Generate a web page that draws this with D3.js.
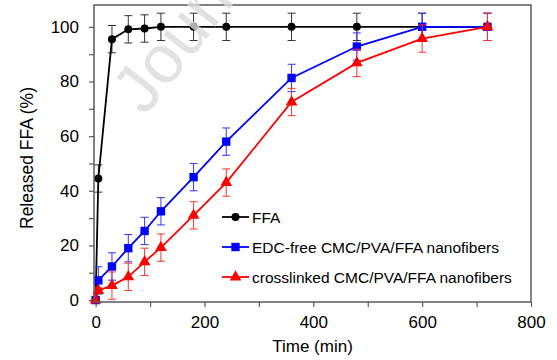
<!DOCTYPE html>
<html><head><meta charset="utf-8">
<script src="https://cdn.jsdelivr.net/npm/d3@7"></script>
<style>body{margin:0;background:#fff;}svg{display:block;font-family:"Liberation Sans",Arial,sans-serif;}</style>
</head><body><svg id="c" width="557" height="360"></svg>
<script>
const times = [0, 5, 30, 60, 90, 120, 180, 240, 360, 480, 600, 720];
const ffa = [0, 44.5, 95.5, 99.1, 99.4, 100, 100, 100, 100, 100, 100, 100];
const ffaErr = [0, 5, 5, 5, 5, 5, 5, 5, 5, 5, 5, 5];
const edcFree = [0, 7.2, 12.3, 19, 25.3, 32.5, 45, 58, 81.3, 92.8, 100, 100];
const edcErr = [0, 5, 5, 5, 5, 5, 5, 5, 5, 5, 5, 5];
const crosslinked = [0, 3.5, 5.3, 8.5, 14, 19.2, 31, 43, 72.5, 86.8, 95.7, 100];
const crossErr = [0, 1, 5, 5, 5, 5, 5, 5, 5, 5, 5, 5];
const seriesNames = ["FFA", "EDC-free CMC/PVA/FFA nanofibers", "crosslinked CMC/PVA/FFA nanofibers"];
const xTicks = [0, 200, 400, 600, 800];
const yTicks = [0, 20, 40, 60, 80, 100];

const svg = d3.select("#c");
const L = 94, R = 531, T = 5, B = 302;
const x = d3.scaleLinear().domain([-3, 800]).range([L, R]);
const y = d3.scaleLinear().domain([-0.7, 108]).range([B, T]);
const frameColor = "#5a5a5a";

// axes
const xAxis = d3.axisBottom(x).tickValues(d3.range(0, 801, 100)).tickSize(5).tickPadding(9)
  .tickFormat(d => xTicks.includes(d) ? d : "");
const gx = svg.append("g").attr("transform", `translate(0,${B})`).call(xAxis);
const yAxis = d3.axisLeft(y).tickValues(d3.range(0, 101, 10)).tickSize(5).tickPadding(10)
  .tickFormat(d => yTicks.includes(d) ? d : "");
const gy = svg.append("g").attr("transform", `translate(${L},0)`).call(yAxis);
[gx, gy].forEach(g => {
  g.select(".domain").remove();
  g.selectAll(".tick line").attr("stroke", frameColor).attr("stroke-width", 1.2);
  g.selectAll(".tick text").attr("fill", "#000").style("font-size", "17px");
});

const series = [
  {vals: ffa, err: ffaErr, color: "#000", ecolor: "#333", shape: "circle"},
  {vals: edcFree, err: edcErr, color: "#0000ff", ecolor: "#3333ff", shape: "square"},
  {vals: crosslinked, err: crossErr, color: "#ff0000", ecolor: "#ff3333", shape: "triangle"}
];
const sym = {circle: d3.symbolCircle, square: d3.symbolSquare, triangle: d3.symbolTriangle};
const size = {circle: 50, square: 70, triangle: 60};

series.forEach(s => {
  const pts = times.map((t, i) => ({t, v: s.vals[i], e: s.err[i]}));
  const g = svg.append("g");
  // error bars
  pts.filter(p => p.e > 0).forEach(p => {
    g.append("line").attr("x1", x(p.t)).attr("x2", x(p.t)).attr("y1", y(p.v - p.e)).attr("y2", y(p.v + p.e))
      .attr("stroke", s.ecolor).attr("stroke-width", 1);
    [p.v - p.e, p.v + p.e].forEach(v => {
      g.append("line").attr("x1", x(p.t) - 4).attr("x2", x(p.t) + 4).attr("y1", y(v)).attr("y2", y(v))
        .attr("stroke", s.ecolor).attr("stroke-width", 1);
    });
  });
  g.append("path").datum(pts)
    .attr("d", d3.line().x(p => x(p.t)).y(p => y(p.v)))
    .attr("fill", "none").attr("stroke", s.color).attr("stroke-width", 1.8);
  g.selectAll("path.m").data(pts).join("path").attr("class", "m")
    .attr("transform", p => `translate(${x(p.t)},${y(p.v)})`)
    .attr("d", d3.symbol().type(sym[s.shape]).size(size[s.shape]))
    .attr("fill", s.color);
});

// frame
svg.append("rect").attr("x", L).attr("y", T).attr("width", R - L).attr("height", B - T)
  .attr("fill", "none").attr("stroke", frameColor).attr("stroke-width", 1.5);

// legend
const legY = [217, 247, 277];
series.forEach((s, i) => {
  const g = svg.append("g");
  g.append("line").attr("x1", 222).attr("x2", 249).attr("y1", legY[i]).attr("y2", legY[i])
    .attr("stroke", s.color).attr("stroke-width", 1.8);
  g.append("path").attr("transform", `translate(235.5,${legY[i]})`)
    .attr("d", d3.symbol().type(sym[s.shape]).size(size[s.shape])).attr("fill", s.color);
  g.append("text").attr("x", 252).attr("y", legY[i] + 5.5).text(seriesNames[i])
    .style("font-size", "15.5px").attr("fill", "#000");
});

// axis titles
svg.append("text").attr("x", (L + R) / 2).attr("y", 351.5).attr("text-anchor", "middle")
  .style("font-size", "17px").text("Time (min)");
svg.append("text").attr("transform", `translate(33,158) rotate(-90)`).attr("text-anchor", "middle")
  .style("font-size", "17.5px").text("Released FFA (%)");

// watermark
svg.append("text").attr("transform", "translate(145,117) rotate(-52)")
  .style("font-size", "68px").attr("fill", "#dcdcdc").attr("opacity", 0.8).text("Journal Pre-proof");
</script></body></html>
